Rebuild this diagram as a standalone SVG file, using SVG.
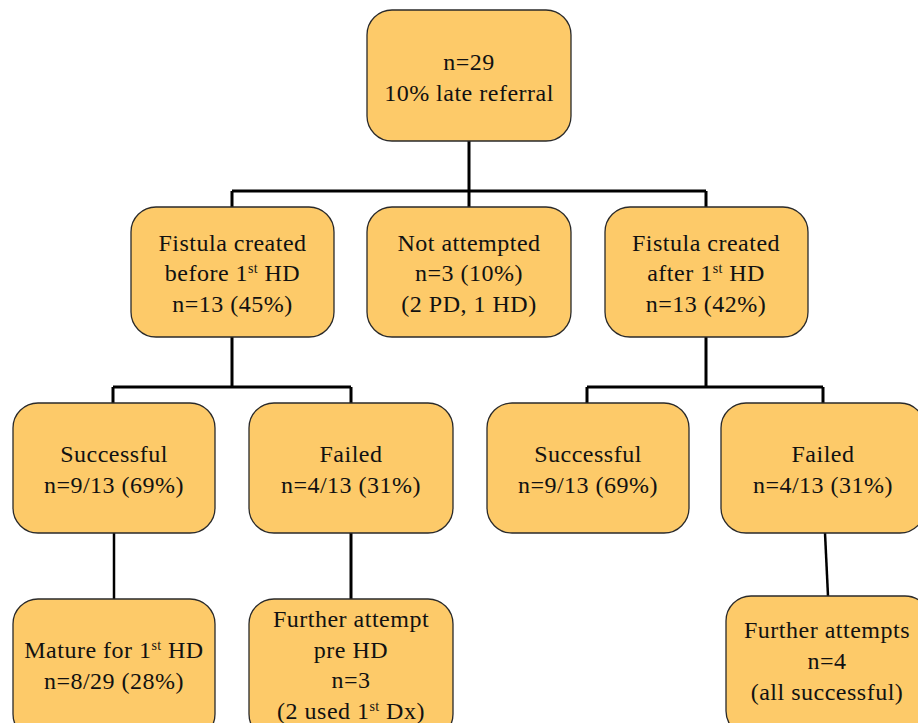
<svg xmlns="http://www.w3.org/2000/svg" width="918" height="723" viewBox="0 0 918 723">
<style>
.box{fill:#FDCA69;stroke:#2a2a2a;stroke-width:1.3}
text{font-family:"Liberation Serif","Times New Roman",serif;font-size:24px;letter-spacing:0.5px;fill:#111;text-anchor:middle}
.sup{font-size:14px;letter-spacing:0.3px}
.c{fill:none;stroke:#000;stroke-width:3}
.c2{fill:none;stroke:#000;stroke-width:2.5}
</style>
<rect width="918" height="723" fill="#fff"/>
<g id="connectors">
<path class="c" d="M469,141V191M232,191H706M232,191V207M469,191V207M706,191V207"/>
<path class="c" d="M232,337V387M113,387H351M113,387V403M351,387V403"/>
<path class="c" d="M706,337V387M587,387H823M587,387V403M823,387V403"/>
<path class="c2" d="M114,533V599"/>
<path class="c" d="M351,533V599"/>
<path class="c2" d="M825,533L828,596"/>
</g>
<g id="n0"><rect class="box" x="367" y="10" width="204" height="131" rx="25"/>
<text x="469" y="70">n=29</text><text x="469" y="101">10% late referral</text></g>
<g id="n1"><rect class="box" x="131" y="207" width="203" height="130" rx="25"/>
<text x="232.5" y="251">Fistula created</text>
<text x="232.5" y="281">before 1<tspan class="sup" dy="-8">st</tspan><tspan dy="8"> HD</tspan></text>
<text x="232.5" y="312">n=13 (45%)</text></g>
<g id="n2"><rect class="box" x="367" y="207" width="204" height="130" rx="25"/>
<text x="469" y="251">Not attempted</text>
<text x="469" y="281">n=3 (10%)</text>
<text x="469" y="312">(2 PD, 1 HD)</text></g>
<g id="n3"><rect class="box" x="605" y="207" width="203" height="130" rx="25"/>
<text x="706" y="251">Fistula created</text>
<text x="706" y="281">after 1<tspan class="sup" dy="-8">st</tspan><tspan dy="8"> HD</tspan></text>
<text x="706" y="312">n=13 (42%)</text></g>
<g id="n4"><rect class="box" x="13" y="403" width="202" height="130" rx="25"/>
<text x="114" y="462">Successful</text><text x="114" y="493">n=9/13 (69%)</text></g>
<g id="n5"><rect class="box" x="249" y="403" width="204" height="130" rx="25"/>
<text x="351" y="462">Failed</text><text x="351" y="493">n=4/13 (31%)</text></g>
<g id="n6"><rect class="box" x="487" y="403" width="202" height="130" rx="25"/>
<text x="588" y="462">Successful</text><text x="588" y="493">n=9/13 (69%)</text></g>
<g id="n7"><rect class="box" x="721" y="403" width="204" height="130" rx="25"/>
<text x="823" y="462">Failed</text><text x="823" y="493">n=4/13 (31%)</text></g>
<g id="n8"><rect class="box" x="13" y="599" width="202" height="140" rx="25"/>
<text x="114" y="658">Mature for 1<tspan class="sup" dy="-8">st</tspan><tspan dy="8"> HD</tspan></text>
<text x="114" y="689">n=8/29 (28%)</text></g>
<g id="n9"><rect class="box" x="249" y="599" width="204" height="140" rx="25"/>
<text x="351" y="627">Further attempt</text>
<text x="351" y="658">pre HD</text>
<text x="351" y="688">n=3</text>
<text x="351" y="719">(2 used 1<tspan class="sup" dy="-8">st</tspan><tspan dy="8"> Dx)</tspan></text></g>
<g id="n10"><rect class="box" x="726" y="596" width="204" height="140" rx="25"/>
<text x="827" y="638">Further attempts</text>
<text x="827" y="669">n=4</text>
<text x="827" y="700">(all successful)</text></g>
</svg>
